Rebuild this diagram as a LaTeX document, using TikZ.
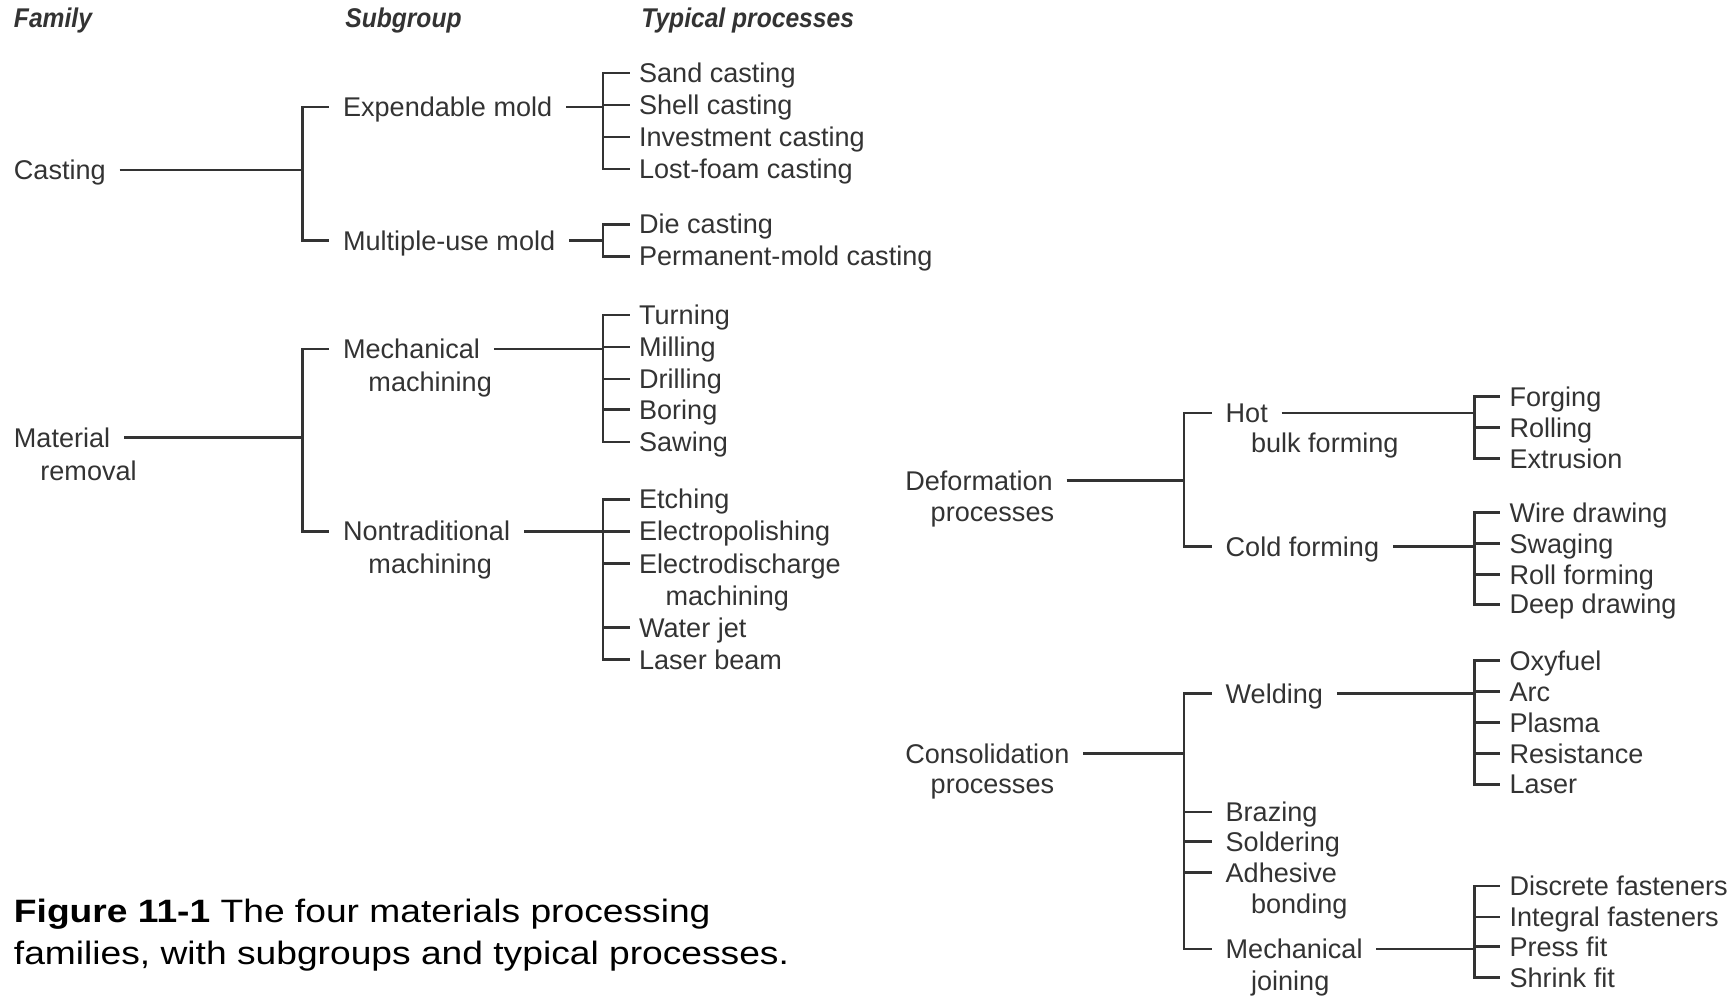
\documentclass[tikz,border=0pt]{standalone}
\usepackage{fontspec}
\setmainfont{Liberation Sans}
\newfontfamily\hdfont[FakeStretch=0.91]{Liberation Sans}
\newfontfamily\capfont[FakeStretch=1.15]{Liberation Sans}
\usepackage{tikz}

\definecolor{ink}{gray}{0.2}
\tikzset{
  hdr/.style={anchor=west, inner sep=0pt, text=ink,
    font=\hdfont\bfseries\itshape\fontsize{7.7}{9}\selectfont},
  fam/.style={anchor=west, inner xsep=3.76pt, inner ysep=0pt, text=ink,
    text height=5.5pt, text depth=0pt, font=\fontsize{7.7}{9}\selectfont},
  proc/.style={fam, inner xsep=2.5pt},
  link/.style={draw=ink, line width=0.75pt},
  captxt/.style={anchor=base west, inner sep=0pt,
    font=\capfont\fontsize{9.2}{10.2}\selectfont}
}

\begin{document}
\begin{tikzpicture}[x=0.11046mm, y=-0.11046mm]
    \useasboundingbox (0,0) rectangle (1568,901);
    \coordinate (barA) at (274,0);
    \coordinate (barB) at (546,0);
    \coordinate (barC) at (1072,0);
    \coordinate (barD) at (1335,0);

    \node[hdr] (hfam) at (12,19) {Family};
    \node[hdr] (hsub) at (312,19) {Subgroup};
    \node[hdr] (hproc) at (580,19) {Typical processes};

    % casting
    \node[fam] (cast) at (0,154) {Casting};
    \node[fam] (exp) at (298,97) {Expendable mold};
    \node[fam] (mult) at (298,218) {Multiple-use mold};
    \node[proc] (sand) at (570,66) {Sand casting};
    \node[proc] (shell) at (570,95) {Shell casting};
    \node[proc] (inv) at (570,124) {Investment casting};
    \node[proc] (lost) at (570,153) {Lost-foam casting};
    \node[proc] (die) at (570,203) {Die casting};
    \node[proc] (perm) at (570,232) {Permanent-mold casting};

    % material removal
    \node[fam] (matrem) at (0,396) {Material};
    \node[fam] (matrem-b) at (24,426) {removal};
    \node[fam] (mech) at (298,316) {Mechanical};
    \node[fam] (mech-b) at (321,346) {machining};
    \node[fam] (nontr) at (298,481) {Nontraditional};
    \node[fam] (nontr-b) at (321,510) {machining};
    \node[proc] (turn) at (570,285) {Turning};
    \node[proc] (mill) at (570,314) {Milling};
    \node[proc] (drill) at (570,343) {Drilling};
    \node[proc] (bore) at (570,371) {Boring};
    \node[proc] (saw) at (570,400) {Sawing};
    \node[proc] (etch) at (570,452) {Etching};
    \node[proc] (epol) at (570,481) {Electropolishing};
    \node[proc] (edm) at (570,510) {Electrodischarge};
    \node[proc] (edm-b) at (594,539) {machining};
    \node[proc] (wjet) at (570,568) {Water jet};
    \node[proc] (lbeam) at (570,597) {Laser beam};

    % deformation
    \node[fam] (deform) at (807,435) {Deformation};
    \node[fam] (deform-b) at (830,463) {processes};
    \node[fam] (hot) at (1097,374) {Hot};
    \node[fam] (hot-b) at (1120,401) {bulk forming};
    \node[fam] (cold) at (1097,495) {Cold forming};
    \node[proc] (forge) at (1358,359) {Forging};
    \node[proc] (roll) at (1358,387) {Rolling};
    \node[proc] (extr) at (1358,415) {Extrusion};
    \node[proc] (wire) at (1358,464) {Wire drawing};
    \node[proc] (swag) at (1358,492) {Swaging};
    \node[proc] (rform) at (1358,520) {Roll forming};
    \node[proc] (deep) at (1358,547) {Deep drawing};

    % consolidation
    \node[fam] (consol) at (807,682) {Consolidation};
    \node[fam] (consol-b) at (830,710) {processes};
    \node[fam] (weld) at (1097,628) {Welding};
    \node[fam] (braz) at (1097,735) {Brazing};
    \node[fam] (sold) at (1097,762) {Soldering};
    \node[fam] (adh) at (1097,790) {Adhesive};
    \node[fam] (adh-b) at (1120,818) {bonding};
    \node[fam] (mjoin) at (1097,859) {Mechanical};
    \node[fam] (mjoin-b) at (1120,888) {joining};
    \node[proc] (oxy) at (1358,598) {Oxyfuel};
    \node[proc] (arc) at (1358,626) {Arc};
    \node[proc] (plasma) at (1358,654) {Plasma};
    \node[proc] (resist) at (1358,682) {Resistance};
    \node[proc] (laser) at (1358,710) {Laser};
    \node[proc] (disc) at (1358,802) {Discrete fasteners};
    \node[proc] (integ) at (1358,830) {Integral fasteners};
    \node[proc] (press) at (1358,857) {Press fit};
    \node[proc] (shrink) at (1358,885) {Shrink fit};

    % brackets
    \draw[link] (cast.east) -- (cast.east -| barA) |- (exp.west)
                (cast.east -| barA) |- (mult.west);
    \draw[link] (exp.east) -- (exp.east -| barB) |- (sand.west)
                (exp.east -| barB) |- (shell.west)
                (exp.east -| barB) |- (inv.west)
                (exp.east -| barB) |- (lost.west);
    \draw[link] (mult.east) -- (mult.east -| barB) |- (die.west)
                (mult.east -| barB) |- (perm.west);
    \draw[link] (matrem.east) -- (matrem.east -| barA) |- (mech.west)
                (matrem.east -| barA) |- (nontr.west);
    \draw[link] (mech.east) -- (mech.east -| barB) |- (turn.west)
                (mech.east -| barB) |- (mill.west)
                (mech.east -| barB) |- (drill.west)
                (mech.east -| barB) |- (bore.west)
                (mech.east -| barB) |- (saw.west);
    \draw[link] (nontr.east) -- (nontr.east -| barB) |- (etch.west)
                (nontr.east -| barB) |- (epol.west)
                (nontr.east -| barB) |- (edm.west)
                (nontr.east -| barB) |- (wjet.west)
                (nontr.east -| barB) |- (lbeam.west);
    \draw[link] (deform.east) -- (deform.east -| barC) |- (hot.west)
                (deform.east -| barC) |- (cold.west);
    \draw[link] (hot.east) -- (hot.east -| barD) |- (forge.west)
                (hot.east -| barD) |- (roll.west)
                (hot.east -| barD) |- (extr.west);
    \draw[link] (cold.east) -- (cold.east -| barD) |- (wire.west)
                (cold.east -| barD) |- (swag.west)
                (cold.east -| barD) |- (rform.west)
                (cold.east -| barD) |- (deep.west);
    \draw[link] (consol.east) -- (consol.east -| barC) |- (weld.west)
                (consol.east -| barC) |- (braz.west)
                (consol.east -| barC) |- (sold.west)
                (consol.east -| barC) |- (adh.west)
                (consol.east -| barC) |- (mjoin.west);
    \draw[link] (weld.east) -- (weld.east -| barD) |- (oxy.west)
                (weld.east -| barD) |- (arc.west)
                (weld.east -| barD) |- (plasma.west)
                (weld.east -| barD) |- (resist.west)
                (weld.east -| barD) |- (laser.west);
    \draw[link] (mjoin.east) -- (mjoin.east -| barD) |- (disc.west)
                (mjoin.east -| barD) |- (integ.west)
                (mjoin.east -| barD) |- (press.west)
                (mjoin.east -| barD) |- (shrink.west);

    % caption
    \node[captxt] (cap1) at (12,835) {\textbf{Figure 11-1} The four materials processing};
    \node[captxt] (cap2) at (12,873) {families, with subgroups and typical processes.};
\end{tikzpicture}
\end{document}
